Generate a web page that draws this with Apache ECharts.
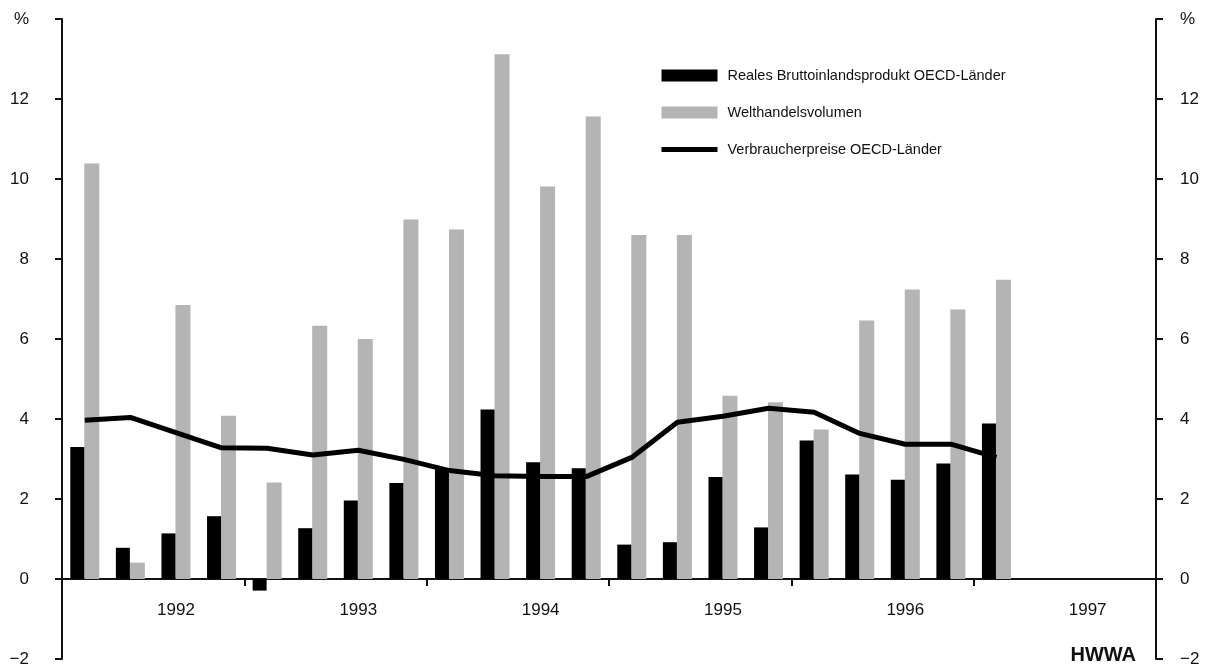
<!DOCTYPE html>
<html>
<head>
<meta charset="utf-8">
<title>OECD</title>
<script src="https://cdn.jsdelivr.net/npm/echarts@6/dist/echarts.min.js"></script>
<style>
    html, body { margin: 0; padding: 0; background: #fff; }
    #chart { width: 1214px; height: 666px; }
</style>
</head>
<body>
<div id="chart"></div>
<script>
var quarters = [
    '1992 I', '1992 II', '1992 III', '1992 IV',
    '1993 I', '1993 II', '1993 III', '1993 IV',
    '1994 I', '1994 II', '1994 III', '1994 IV',
    '1995 I', '1995 II', '1995 III', '1995 IV',
    '1996 I', '1996 II', '1996 III', '1996 IV',
    '1997 I', '1997 II', '1997 III', '1997 IV'
];
var yearLabelIdx = [2, 6, 10, 14, 18, 22];
var yearTickIdx = [4, 8, 12, 16, 20];

var bip = [3.3, 0.78, 1.14, 1.57, -0.29, 1.27, 1.96, 2.4, 2.75, 4.24, 2.92, 2.77, 0.86, 0.92, 2.55, 1.29, 3.46, 2.61, 2.48, 2.89, 3.89];
var welthandel = [10.39, 0.41, 6.85, 4.08, 2.41, 6.33, 6.0, 8.99, 8.74, 13.12, 9.81, 11.56, 8.6, 8.6, 4.58, 4.42, 3.74, 6.46, 7.24, 6.74, 7.48];
var preise = [3.97, 4.04, 3.66, 3.28, 3.27, 3.1, 3.22, 2.99, 2.71, 2.58, 2.56, 2.56, 3.04, 3.92, 4.07, 4.27, 4.17, 3.64, 3.37, 3.37, 3.04];

var font = "'Liberation Sans', Arial, sans-serif";

function yLabel(v) {
    if (v === 14) return '%';
    return String(v).replace('-', '\u2212');
}

var yAxisBase = {
    type: 'value',
    min: -2,
    max: 14,
    interval: 2,
    splitLine: { show: false },
    axisLine: { show: true, onZero: false, lineStyle: { color: '#111', width: 2 } },
    axisTick: { show: true, length: 7, lineStyle: { color: '#111', width: 2 } },
    axisLabel: { formatter: yLabel, color: '#111', fontSize: 17, fontFamily: font }
};

var chart = echarts.init(document.getElementById('chart'));

chart.setOption({
    backgroundColor: '#fff',
    animation: false,
    grid: { left: 62, right: 58, top: 19, bottom: 7, containLabel: false, outerBoundsMode: 'none' },
    legend: {
        orient: 'vertical',
        left: 659,
        top: 68,
        padding: 0,
        itemWidth: 56,
        itemHeight: 12,
        itemGap: 22,
        textStyle: { color: '#111', fontSize: 14.5, fontFamily: font, padding: [0, 0, 0, 5] },
        data: [
            { name: 'Reales Bruttoinlandsprodukt OECD-Länder', icon: 'rect' },
            { name: 'Welthandelsvolumen', icon: 'rect' },
            {
                name: 'Verbraucherpreise OECD-Länder',
                itemStyle: { opacity: 0 },
                lineStyle: { color: '#000', width: 5 }
            }
        ]
    },
    xAxis: {
        type: 'category',
        data: quarters,
        boundaryGap: true,
        position: 'bottom',
        // zero line sits 2 units (80px) above the grid bottom
        offset: -80,
        axisLine: { onZero: false, lineStyle: { color: '#111', width: 2 } },
        axisTick: {
            show: true,
            length: 7,
            interval: function (i) { return yearTickIdx.indexOf(i) >= 0; },
            lineStyle: { color: '#111', width: 2 }
        },
        axisLabel: {
            interval: function (i) { return yearLabelIdx.indexOf(i) >= 0; },
            formatter: function (v) { return v.slice(0, 4); },
            margin: 23,
            color: '#111',
            fontSize: 17,
            fontFamily: font
        }
    },
    yAxis: [
        Object.assign({}, yAxisBase, {
            position: 'left',
            axisLabel: Object.assign({}, yAxisBase.axisLabel, { margin: 33 })
        }),
        Object.assign({}, yAxisBase, {
            position: 'right',
            axisLabel: Object.assign({}, yAxisBase.axisLabel, { margin: 24 })
        })
    ],
    series: [
        {
            name: 'Reales Bruttoinlandsprodukt OECD-Länder',
            type: 'bar',
            data: bip,
            barWidth: 14,
            barGap: '0%',
            itemStyle: { color: '#000' },
            z: 2
        },
        {
            name: 'Welthandelsvolumen',
            type: 'bar',
            data: welthandel,
            barWidth: 15,
            barGap: '0%',
            itemStyle: { color: '#b4b4b4' },
            z: 1
        },
        {
            name: 'Verbraucherpreise OECD-Länder',
            type: 'line',
            data: preise,
            showSymbol: false,
            symbol: 'none',
            lineStyle: { color: '#000', width: 5 },
            itemStyle: { color: '#000' },
            z: 5
        }
    ],
    graphic: [
        {
            type: 'text',
            right: 78,
            top: 645,
            style: { text: 'HWWA', fill: '#111', font: 'bold 20px ' + font }
        }
    ]
});
</script>
</body>
</html>
